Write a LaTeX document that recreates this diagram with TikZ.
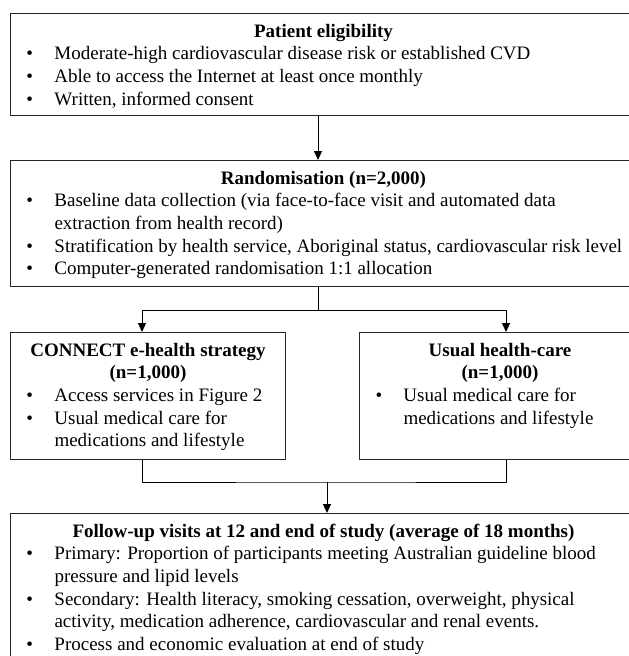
\documentclass[tikz,border=0pt]{standalone}
\usepackage{fontspec}
\setmainfont{Liberation Serif}
\usetikzlibrary{calc}
\usetikzlibrary{positioning}
\usetikzlibrary{arrows.meta}

% box contents: heading, bullets, fixed-size frame
\newcommand{\boxhead}[1]{{\centering\bfseries\strut #1\par}}
\newcommand{\bitem}[1]{\par\hangindent=44pt\hangafter=1\noindent\hspace*{16pt}\makebox[28pt][l]{\textbullet}#1\par}
\newcommand{\boxbody}[3]{\parbox[c][#2][t]{#1}{\fontsize{19}{22.6}\selectfont\raggedright\vspace*{8pt}#3}}

\begin{document}
\begin{tikzpicture}[x=1pt, y=-1pt, line join=round]
  \tikzset{
    frame/.style={draw=black!85, line width=1pt, inner sep=0pt, anchor=north west},
    flow/.style={draw=black, line width=1pt},
    flowarrow/.style={flow, -{Triangle[width=8pt,length=9pt]}}
  }
  \useasboundingbox (0,0) rectangle (629,656);
  \clip (0,0) rectangle (629,656);

  % the five boxes
  \node[frame] (elig) at (10,13) {\boxbody{626pt}{102pt}{%
    \boxhead{Patient eligibility}
    \bitem{Moderate-high cardiovascular disease risk or established CVD}
    \bitem{Able to access the Internet at least once monthly}
    \bitem{Written, informed consent}}};
  \node[frame] (rand) at (10,160) {\boxbody{626pt}{126pt}{%
    \boxhead{Randomisation (n=2,000)}
    \bitem{Baseline data collection (via face-to-face visit and automated data\newline extraction from health record)}
    \bitem{Stratification by health service, Aboriginal status, cardiovascular risk level}
    \bitem{Computer-generated randomisation 1:1 allocation}}};
  \node[frame] (connect) at (10,332) {\boxbody{275pt}{127pt}{%
    \boxhead{CONNECT e-health strategy\\(n=1,000)}
    \bitem{Access services in Figure 2}
    \bitem{Usual medical care for\newline medications and lifestyle}}};
  \node[frame] (usual) at (359,332) {\boxbody{281pt}{127pt}{%
    \boxhead{Usual health-care\\(n=1,000)}
    \bitem{Usual medical care for\newline medications and lifestyle}}};
  \node[frame] (follow) at (10,513) {\boxbody{626pt}{200pt}{%
    \boxhead{Follow-up visits at 12 and end of study (average of 18 months)}
    \bitem{Primary: Proportion of participants meeting Australian guideline blood\newline pressure and lipid levels}
    \bitem{Secondary: Health literacy, smoking cessation, overweight, physical\newline activity, medication adherence, cardiovascular and renal events.}
    \bitem{Process and economic evaluation at end of study}}};

  % connector columns
  \coordinate (spine) at (318,0);
  \coordinate (lft) at (142,0);
  \coordinate (rgt) at (506,0);
  \coordinate (merge) at (327,482);

  \draw[flowarrow] (elig.south -| spine) -- (rand.north -| spine);
  \draw[flow] (rand.south -| spine) -- ++(0,23) coordinate (split);
  \foreach \arm/\dest in {lft/connect, rgt/usual}
    \draw[flowarrow] (split) -| (\dest.north -| \arm);
  \draw[flow] (connect.south -| lft) |- (merge) -| (usual.south -| rgt);
  \draw[flowarrow] (merge) -- (follow.north -| merge);
\end{tikzpicture}
\end{document}
